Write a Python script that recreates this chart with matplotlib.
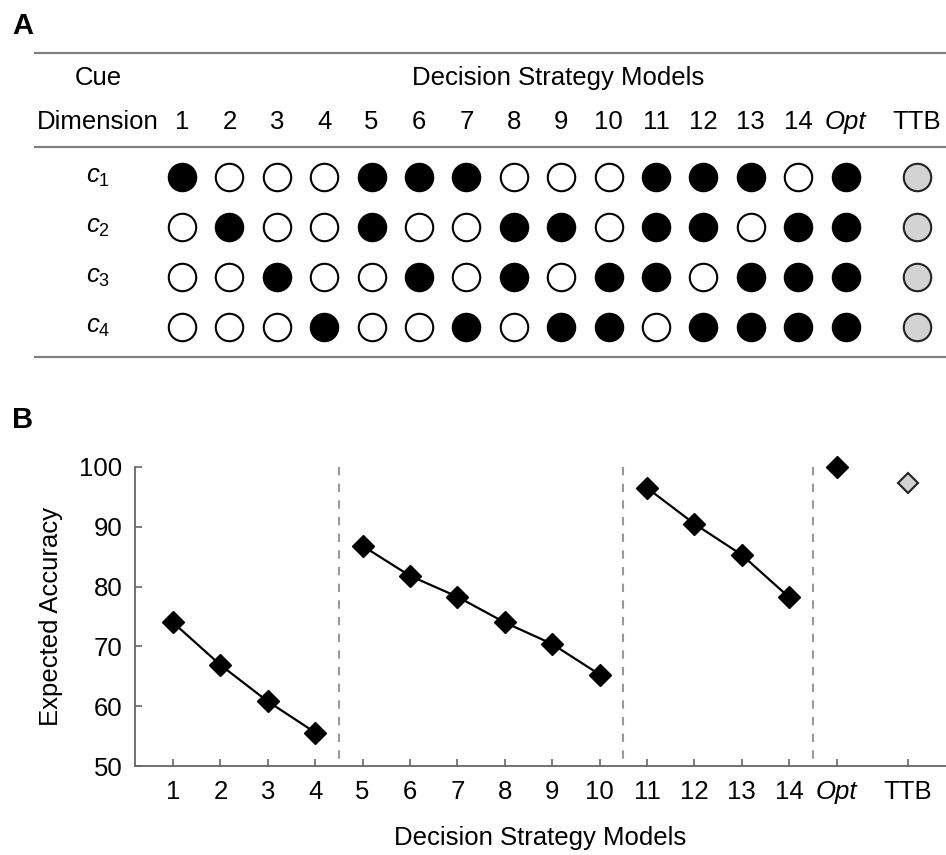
import numpy as np
import matplotlib
matplotlib.use("Agg")
import matplotlib.pyplot as plt

plt.rcParams['font.family'] = ['Liberation Sans', 'DejaVu Sans']
plt.rcParams['mathtext.fontset'] = 'custom'
plt.rcParams['mathtext.rm'] = 'Liberation Sans'
plt.rcParams['mathtext.it'] = 'Liberation Sans:italic'

# model positions and labels
model_labels = ['1', '2', '3', '4', '5', '6', '7', '8', '9', '10',
                '11', '12', '13', '14', 'Opt', 'TTB']
model_x = [1, 2, 3, 4, 5, 6, 7, 8, 9, 10, 11, 12, 13, 14, 15, 16.5]
cue_labels = [r'$c_{\mathrm{1}}$', r'$c_{\mathrm{2}}$', r'$c_{\mathrm{3}}$', r'$c_{\mathrm{4}}$']

# which cues each model uses (rows = c1..c4, cols = models 1..14, Opt); TTB drawn grey
cue_use = np.array([
    [1, 0, 0, 0, 1, 1, 1, 0, 0, 0, 1, 1, 1, 0, 1],
    [0, 1, 0, 0, 1, 0, 0, 1, 1, 0, 1, 1, 0, 1, 1],
    [0, 0, 1, 0, 0, 1, 0, 1, 0, 1, 1, 0, 1, 1, 1],
    [0, 0, 0, 1, 0, 0, 1, 0, 1, 1, 0, 1, 1, 1, 1],
])

# expected accuracy (panel B)
acc_group1 = [74.0, 66.9, 60.8, 55.6]
acc_group2 = [86.8, 81.8, 78.3, 74.0, 70.4, 65.3]
acc_group3 = [96.5, 90.5, 85.3, 78.2]
acc_opt = 100.0
acc_ttb = 97.4
dividers = [4.5, 10.5, 14.5]

FS = 18.5
W, H = 946, 855
fig = plt.figure(figsize=(W / 100, H / 100), dpi=100)

# ---------------- panel A ----------------
x_left = 1 - 182 / 47.4
x_right = 1 + (W - 182) / 47.4
axA = fig.add_axes([0, 1 - 380 / H, 1, 380 / H])
axA.set_xlim(x_left, x_right)
axA.set_ylim((380 - 177) / 50, -177 / 50)
axA.axis('off')

x_line0 = 1 - (182 - 34) / 47.4
for yl in [-2.48, -0.6, 3.6]:
    axA.plot([x_line0, x_right], [yl, yl], color='#808080', lw=1.6, solid_capstyle='butt')

label_x = 1 - (182 - 98) / 47.4
axA.text(label_x, -1.98, 'Cue', ha='center', va='center', fontsize=FS)
axA.text(label_x, -1.1, 'Dimension', ha='center', va='center', fontsize=FS)
axA.text(8.93, -1.98, 'Decision Strategy Models',
         ha='center', va='center', fontsize=FS)
for xm, lab in zip(model_x, model_labels):
    axA.text(xm, -1.1, lab, ha='center', va='center', fontsize=FS,
             style='italic' if lab == 'Opt' else 'normal')

for i, lab in enumerate(cue_labels):
    axA.text(label_x, i, lab, ha='center', va='center', fontsize=FS)
    for j in range(cue_use.shape[1]):
        fc = 'black' if cue_use[i, j] else 'white'
        axA.scatter(model_x[j], i, s=390, facecolor=fc, edgecolor='black',
                    linewidth=1.5, zorder=3)
    axA.scatter(model_x[15], i, s=390, facecolor='#d3d3d3', edgecolor='#222222',
                linewidth=1.5, zorder=3)

fig.text(12 / W, 1 - 26 / H, 'A', fontsize=21, fontweight='bold', va='center', ha='left')

# ---------------- panel B ----------------
axB = fig.add_axes([135 / W, 1 - 766 / H, (W - 135) / W, 299 / H])
axB.set_xlim(1 - (173 - 135) / 47.4, 1 + (W - 173) / 47.4)
axB.set_ylim(50, 100)

# dashed dividers, drawn top-down so the dash pattern starts at 100
for d in dividers:
    axB.plot([d, d], [100, 50], color='#999999', lw=1.5, ls=(0, (4, 4)), zorder=1)

mk = dict(marker='D', ms=11, mfc='black', mec='black', color='black', zorder=3)
axB.plot(model_x[0:4], acc_group1, lw=1.6, **mk)
axB.plot(model_x[4:10], acc_group2, lw=1.6, **mk)
axB.plot(model_x[10:14], acc_group3, lw=1.6, **mk)
axB.plot([model_x[14]], [acc_opt], ls='none', clip_on=False, **mk)
axB.plot([model_x[15]], [acc_ttb], ls='none', marker='D', ms=10.5, mfc='#d3d3d3',
         mec='#222222', mew=1.5, clip_on=False, zorder=3)

axB.spines['top'].set_visible(False)
axB.spines['right'].set_visible(False)
for s in ['left', 'bottom']:
    axB.spines[s].set_color('#666666')
    axB.spines[s].set_linewidth(1.3)

axB.set_yticks([50, 60, 70, 80, 90, 100])
axB.set_xticks(model_x)
axB.set_xticklabels(model_labels)
axB.get_xticklabels()[14].set_style('italic')
axB.tick_params(axis='both', direction='in', length=5, width=1.2, color='#666666',
                labelsize=FS)
axB.tick_params(axis='x', pad=10)
axB.tick_params(axis='y', pad=9)

axB.set_ylabel('Expected Accuracy', fontsize=FS, labelpad=12)
axB.set_xlabel('Decision Strategy Models', fontsize=FS, labelpad=16)

fig.text(12 / W, 1 - 420 / H, 'B', fontsize=21, fontweight='bold', va='center', ha='left')

fig.savefig('out.png', dpi=100)
